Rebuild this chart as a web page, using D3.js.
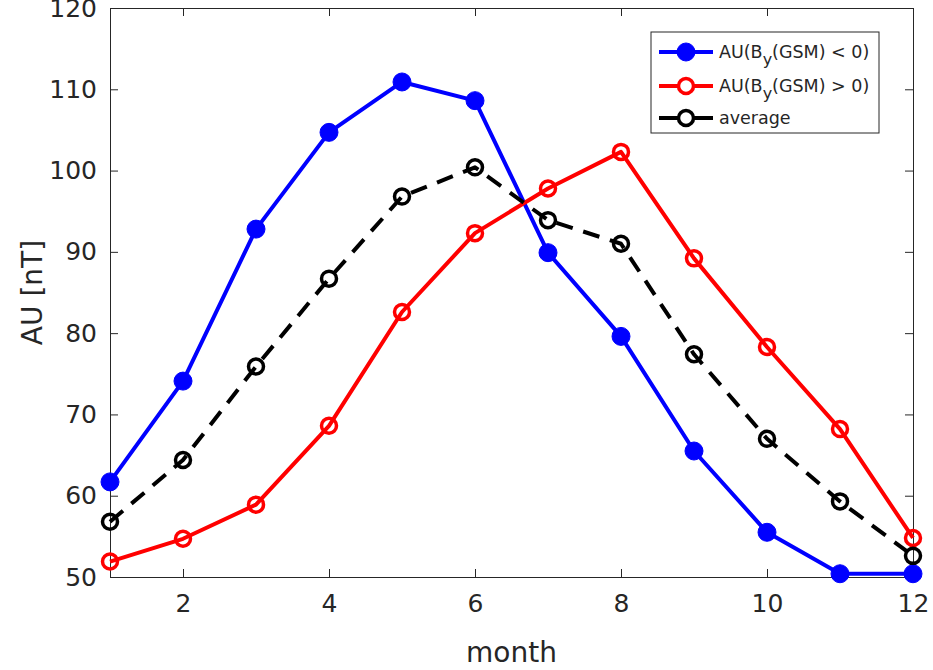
<!DOCTYPE html>
<html>
<head>
<meta charset="utf-8">
<script src="https://cdn.jsdelivr.net/npm/d3@7"></script>
<style>
  body { margin: 0; background: #fff; }
  svg text { font-family: "DejaVu Sans", "Liberation Sans", Arial, sans-serif; fill: #262626; }
</style>
</head>
<body>
<div id="chart"></div>
<script>
// data
const months = [1, 2, 3, 4, 5, 6, 7, 8, 9, 10, 11, 12];
const auNeg = [61.7, 74.1, 92.8, 104.7, 110.9, 108.6, 89.9, 79.6, 65.5, 55.5, 50.4, 50.4];
const auPos = [51.9, 54.7, 58.9, 68.6, 82.6, 92.3, 97.8, 102.3, 89.2, 78.3, 68.2, 54.8];
const auAvg = [56.8, 64.4, 75.9, 86.7, 96.8, 100.4, 93.9, 91.0, 77.4, 67.0, 59.3, 52.6];
const xTicks = [2, 4, 6, 8, 10, 12];
const yTicks = [50, 60, 70, 80, 90, 100, 110, 120];

const W = 933, H = 670;
const margin = {top: 8, right: 20, bottom: 93, left: 110};
const width = W - margin.left - margin.right;
const height = H - margin.top - margin.bottom;

const svg = d3.select("#chart").append("svg")
  .attr("width", W).attr("height", H);
const g = svg.append("g")
  .attr("transform", `translate(${margin.left},${margin.top})`);

const x = d3.scaleLinear().domain([1, 12]).range([0, width]);
const y = d3.scaleLinear().domain([50, 120]).range([height, 0]);

const axisColor = "#262626";

// axes with inward ticks, box on all sides
const styleAxis = sel => {
  sel.select(".domain").attr("stroke", axisColor).attr("stroke-width", 1);
  sel.selectAll(".tick line").attr("stroke", axisColor);
};

g.append("g")
  .attr("transform", `translate(0,${height})`)
  .call(d3.axisBottom(x).tickValues(xTicks).tickSizeInner(-8).tickSizeOuter(0).tickPadding(17))
  .call(styleAxis)
  .selectAll("text").style("font-size", "25px").attr("fill", axisColor);

g.append("g")
  .call(d3.axisLeft(y).tickValues(yTicks).tickSizeInner(-8).tickSizeOuter(0).tickPadding(13))
  .call(styleAxis)
  .selectAll("text").style("font-size", "25px").attr("fill", axisColor);

g.append("g")
  .call(d3.axisTop(x).tickValues(xTicks).tickSizeInner(-8).tickSizeOuter(0).tickFormat(""))
  .call(styleAxis);

g.append("g")
  .attr("transform", `translate(${width},0)`)
  .call(d3.axisRight(y).tickValues(yTicks).tickSizeInner(-8).tickSizeOuter(0).tickFormat(""))
  .call(styleAxis);

// axis labels
svg.append("text")
  .attr("x", margin.left + width / 2)
  .attr("y", 662)
  .attr("text-anchor", "middle")
  .style("font-size", "28px")
  .text("month");

svg.append("text")
  .attr("transform", `translate(42,${margin.top + height / 2}) rotate(-90)`)
  .attr("text-anchor", "middle")
  .style("font-size", "28px")
  .text("AU [nT]");

const line = d3.line()
  .x((d, i) => x(months[i]))
  .y(d => y(d));

const series = [
  {name: "neg", values: auNeg, color: "#0000ff", filled: true, dash: null},
  {name: "pos", values: auPos, color: "#ff0000", filled: false, dash: null},
  {name: "avg", values: auAvg, color: "#000000", filled: false, dash: "17,11"}
];

series.forEach(s => {
  g.append("path")
    .datum(s.values)
    .attr("fill", "none")
    .attr("stroke", s.color)
    .attr("stroke-width", 4)
    .attr("stroke-linejoin", "round")
    .attr("stroke-dasharray", s.dash)
    .attr("d", line);

  g.selectAll(`.dot-${s.name}`)
    .data(s.values)
    .enter()
    .append("circle")
    .attr("class", `dot-${s.name}`)
    .attr("cx", (d, i) => x(months[i]))
    .attr("cy", d => y(d))
    .attr("r", s.filled ? 9 : 7.5)
    .attr("fill", s.filled ? s.color : "none")
    .attr("stroke", s.color)
    .attr("stroke-width", s.filled ? 1 : 3.5);
});

// legend
const legend = svg.append("g").attr("transform", "translate(651,32)");
legend.append("rect")
  .attr("width", 228).attr("height", 101)
  .attr("fill", "#fff")
  .attr("stroke", axisColor).attr("stroke-width", 1);

const legendRows = [
  {s: series[0], label: "<", y: 20},
  {s: series[1], label: ">", y: 54},
  {s: series[2], label: null, y: 86}
];

legendRows.forEach(r => {
  const row = legend.append("g").attr("transform", `translate(0,${r.y})`);
  row.append("line")
    .attr("x1", 8).attr("x2", 62)
    .attr("stroke", r.s.color).attr("stroke-width", 4);
  row.append("circle")
    .attr("cx", 35).attr("r", r.s.filled ? 9 : 7.5)
    .attr("fill", r.s.filled ? r.s.color : "#fff")
    .attr("stroke", r.s.color)
    .attr("stroke-width", r.s.filled ? 1 : 3.5);
  const t = row.append("text")
    .attr("x", 68).attr("y", 6)
    .style("font-size", "17.5px")
    .attr("fill", "#000");
  if (r.label) {
    t.append("tspan").text("AU(B");
    t.append("tspan").attr("dy", 7).style("font-size", "16px").text("y");
    t.append("tspan").attr("dy", -7).text(`(GSM) ${r.label} 0)`);
  } else {
    t.text("average");
  }
});
</script>
</body>
</html>
